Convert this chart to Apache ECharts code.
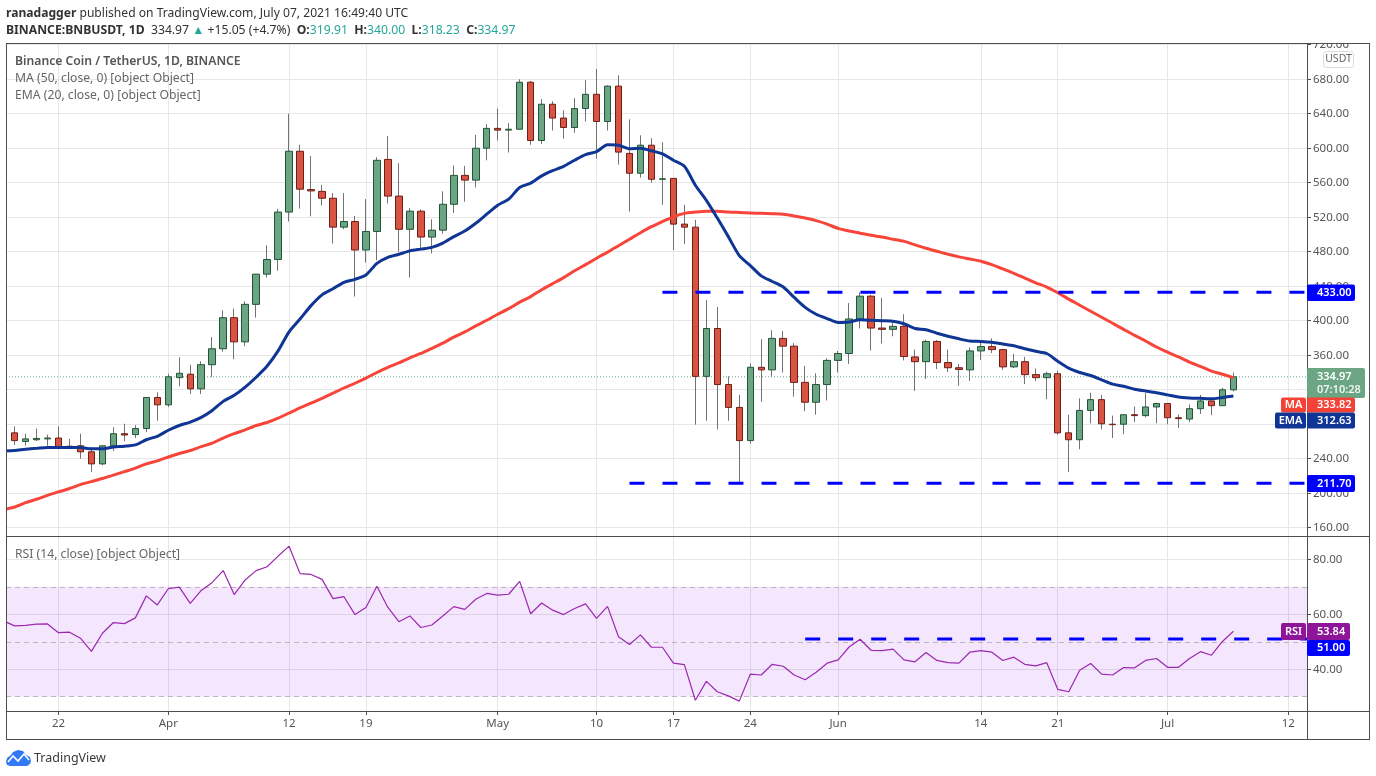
<!DOCTYPE html>
<html>
<head>
<meta charset="utf-8">
<title>BNBUSDT</title>
<script src="https://cdn.jsdelivr.net/npm/echarts@6/dist/echarts.min.js"></script>
<style>html,body{margin:0;padding:0;background:#fff}#c{width:1376px;height:776px}</style>
</head>
<body>
<div id="c"></div>
<script>
// One entry per daily bar, first bar = 2021-03-17, last bar = 2021-07-07. Groups: Mar / Apr / May / Jun / Jul.
const opens = [
258,270,260,262,263,264,254.5,255,248,234,255,269,268,275,311,
302.5,334,338,321,349,367.5,403.5,375.5,419,454,471,526,596.5,552,550,542,508.5,515,482,503.5,587,544.5,506,527,497,505,535,568.5,563,600,
623,621,622,676.5,609,651,635,624,646,662.5,631,672,594,571,603.5,564,565,512,508.5,335.5,391,326,299.5,261,346,343,379.5,370.5,328.5,305.5,326,
354,362,402,428.5,391.5,390,393.5,358,352.5,376,351.5,345.5,343,365,370,366.5,346.5,352.5,337.5,334,338.5,270,262,296,308.5,280,280,291,290,300,
304,287.5,286,298,307,301.5,319.91];
const closes = [
269,261,263,263.5,264,254,254,248,234,255,269,267.5,275,311,302.5,
335,339,321,349,367.5,403.5,375.5,419,454,471,526,596.5,552.5,550.5,542,508.5,515,482,503.5,586,544.5,506,527,497,505,535,568.5,563,600,623,
621,622,676.5,609,651,635,624,646,662.5,631,672,595.5,571,603.5,564,564.5,512,508.5,335.5,391,326,299.5,261,346,343,379.5,370.5,328.5,305.5,326,354,
362,402,428.5,391.5,390,393.5,358.5,352.5,376,351.5,345.5,343.5,365,370,366.5,346.5,352.5,337.5,334,338.5,270,262,296,308.5,280.5,279.5,291,290,300,304,
287.5,286.5,298,307,301.5,319.91,334.97];
const lows = [
255,256,255,260.5,255,252,251,240,224.5,232.5,249,260.5,264,271,284,
300,324,315,315,335,364,355.5,370.5,403.6,450,458,515,530,521,533.5,489.5,506,428,467.5,470,536,480,450,482,478,501,525,538,554.5,586,
609,595,622,604,605,620.5,611,618,631,588,620.5,581,526.5,566,560,534.5,482,489,279.5,284,274,284,211.7,257.5,306,335,340,312,295,291,307.5,
340,350,391,365.5,373.5,382,354,318.5,332.5,344,340.5,324.5,330,354.5,362.5,343,345,326.5,330,309,268,224.5,251,281,274,264,268.5,282.5,288,281,
280,275.5,282.5,292,290.5,301,318.23];
const highs = [
272,277.5,269,275,268,277.5,263,269,253,255,276.5,280.5,279,311,317,
338.5,357.5,349,353,381,412,414,422.6,454,487.5,529.6,640,604,591,557.5,548,548,521.5,541,589.5,614,582.5,530.5,529,517.5,550,580,579.5,615.5,628,
646,629,680,678,657,654.5,644,658,679,692,673,684.5,633.5,615,611.5,607,565,534.5,517,424,416,335.5,314,350.5,378.5,389,388,374,347.5,339,356.5,
365,420.5,433,430,426.5,400.5,407.5,366.5,378,377.5,366.5,350,369,377,379.5,366.5,361.5,358,344.5,341,342,291,310,316.5,314,290,291,300.5,316,305,
304,291,303,314,307,322.5,340];
const ma50 = [
181,184,189,193,197.5,201.5,205.5,210,213.5,217,221,225,229,234,237.5,
242,246,249.5,254,258,264,269,273.5,278.5,282,287,293,299,304.5,310,316,322,327.5,333.5,340,346,351,357,362,368,374,381,387,394,400.5,
407.5,414,421.5,428,436,443,450,458,465,472.5,479.5,487,494.5,502,509,515,520.5,524.5,526,527,527,526,525.5,525,524.5,524,523.5,521.5,519,516,512,
507,504,501.5,499,497,494.5,492,488,484,480.5,477,474,471.5,469,465,460,455,449.5,444,439,432.5,425,418,411,404,397,390,383,376.5,369.5,
363.5,358,352,347,341.5,338,333.82];
const ema20 = [
249,249.6,251,252,253,253,253,253,251.5,251.5,253.5,254.5,256,262,266,
273,278.5,282.5,288,296,306.5,313.5,323,334.5,347.5,365,387,402,417.5,430,437,444.5,448,453,466.5,473.5,477,481,483,485,490,497.5,504,513,523.5,
534,541,554.5,559.5,568,574,579,586,592.5,596,604,603.5,599.5,600,597,593.5,586,579,557,539.5,519,497.5,475.5,464,452,445.5,439,427,415.5,407.5,402.5,
398,398.5,401,400.5,400,399.5,396.5,391,389.5,385.5,382,379,376.5,376,375,373,371,367.5,364.5,362,353,345,340,336.5,331.5,326.5,324,320.5,318.5,316.5,
314,311.5,310.5,310,309.5,311,312.63];
const rsi14 = [
57.6,55.8,56,56.4,56.5,53.3,53.5,51.3,46.5,53.1,57,56.6,58.7,66.7,63.4,
69.3,69.9,64,68.7,71.6,75.9,67.2,72.5,75.9,77.3,81.2,84.8,74.8,74.5,72.7,65.7,66.4,59.9,62.5,70.2,62.5,57.3,59.4,55.2,56.1,59.4,62.8,61.8,65.5,67.6,
67,67.3,72,60.2,64.1,61.5,59.9,62.1,63.8,58.5,62.9,51.8,49,52.5,48,48,42.2,41.7,28.7,35.6,31.8,30.3,28.4,38.2,37.9,41.8,41.1,37.9,36.2,38.9,42.2,
43.4,48.1,50.9,46.9,46.8,47.3,43.4,42.7,46.1,43.2,42.4,42.2,46.2,46.8,46.2,43.2,44.4,41.8,41.2,42.4,32.7,31.8,39.6,42.1,38.2,37.9,40.6,40.5,43.2,43.9,
40.7,40.7,43.9,46.4,45.1,50.1,53.84];

// Time axis: days since 2021-03-22.
const firstDay = -5;
const tickDays = [0,10,21,28,40,49,56,63,71,84,91,101,112];
const tickLabels = ['22','Apr','12','19','May','10','17','24','Jun','14','21','Jul','12'];
const priceTicks = [160,200,240,280,320,360,400,440,480,520,560,600,640,680,720];
const rsiTicks = [40,60,80];
const lastPrice = 334.97;
const resistance = 433, resistanceStart = 55;
const support = 211.7, supportStart = 52;
const rsiLevel = 51, rsiLevelStart = 68;
const rsiBandTop = 70, rsiBandMid = 50, rsiBandBottom = 30;

const FONT = '"Noto Sans", sans-serif';
const xMin = -4.78, xMax = 113.7;
const days = opens.map((_, i) => firstDay + i);
const withDay = arr => arr.map((v, i) => [days[i], v]);
const xLabel = v => { const k = tickDays.indexOf(v); return k >= 0 ? tickLabels[k] : ''; };

const axisColor = '#4f4f4f', gridColor = '#e6e6e6', labelColor = '#555555';
const flat = (y, from) => [[from, y], [xMax, y]];

function tag(x, y, w, h, text, fill) {
  return [{
    type:'rect', z:50, shape:{x, y, width:w, height:h, r:2}, style:{fill}, silent:true
  },{
    type:'text', z:51, silent:true, x:x + w/2, y:y + h/2,
    style:{text, fill:'#fff', font:'600 11px ' + FONT, align:'center', verticalAlign:'middle'}
  }];
}
function valueTag(x, y, w, h, text, fill) {
  return [{
    type:'rect', z:50, shape:{x, y, width:w, height:h, r:2}, style:{fill}, silent:true
  },{
    type:'text', z:51, silent:true, x:x + 10, y:y + h/2,
    style:{text, fill:'#fff', font:'600 11px ' + FONT, verticalAlign:'middle'}
  }];
}
function hLine(x1,y,x2){return {type:'line',z:40,silent:true,shape:{x1,y1:y,x2,y2:y},style:{stroke:axisColor,lineWidth:1}};}
function vLine(x,y1,y2){return {type:'line',z:40,silent:true,shape:{x1:x,y1,x2:x,y2},style:{stroke:axisColor,lineWidth:1}};}
function label(x,y,text,font,fill,rich){
  return {type:'text',z:45,silent:true,x,y,style:{text,font,fill,verticalAlign:'middle',rich:rich||undefined}};
}

const tealC = '#26a69a';
const graphics = [
  {type:'rect',z:39,silent:true,shape:{x:1308,y:28,width:68,height:15},style:{fill:'#fff'}},
  {type:'rect',z:39,silent:true,shape:{x:0,y:43,width:6,height:700},style:{fill:'#fff'}},
  hLine(6,43.5,1370), hLine(6,536.5,1370), hLine(6,711.5,1370), hLine(6,739.5,1370),
  vLine(6.5,43,740), vLine(1307.5,43,740), vLine(1369.5,43,740),
  label(6,14,'{b|ranadagger} published on TradingView.com, July 07, 2021 16:49:40 UTC','12.1px '+FONT,'#333',{b:{font:'bold 12.1px '+FONT,fill:'#333'}}),
  label(6,30.5,'{b|BINANCE:BNBUSDT, 1D}  334.97 {t|▲} +15.05 (+4.7%)  {b|O:}{t|319.91}  {b|H:}{t|340.00}  {b|L:}{t|318.23}  {b|C:}{t|334.97}','12.2px '+FONT,'#333',
    {b:{font:'bold 12.2px '+FONT,fill:'#333'},t:{font:'12.2px '+FONT,fill:tealC}}),
  label(15,62,'Binance Coin / TetherUS, 1D, BINANCE','600 12.2px '+FONT,'#555'),
  label(15,79,'MA (50, close, 0) [object Object]','12.2px '+FONT,'#666'),
  label(15,96,'EMA (20, close, 0) [object Object]','12.2px '+FONT,'#666'),
  label(15,555,'RSI (14, close) [object Object]','12.2px '+FONT,'#666'),
  {type:'rect',z:45,silent:true,shape:{x:1323.5,y:51.5,width:30,height:16,r:3},style:{fill:'#fff',stroke:'#dcdce0',lineWidth:1}},
  {type:'text',z:46,silent:true,x:1338.5,y:59.5,style:{text:'USDT',font:'10.5px '+FONT,fill:'#666',align:'center',verticalAlign:'middle'}},
  // TradingView logo
  {type:'polygon',z:45,silent:true,shape:{points:[[6,762],[7,758],[11,755],[13,752],[18,750],[23,751],[26,755],[30,757],[31,761],[30,764],[27,766],[10,766],[7,765]]},style:{fill:'#3179f5'}},
  {type:'polyline',z:46,silent:true,shape:{points:[[8,762],[13,756],[18,761],[24,754],[29,760]]},style:{stroke:'#fff',lineWidth:1.6,fill:null}},
  label(34,758,'TradingView','12.5px '+FONT,'#3a3a3a'),
  ...valueTag(1307,284.5,48,16.5,'433.00','#0000ff'),
  ...valueTag(1307,475,48,17,'211.70','#0000ff'),
  {type:'rect',z:50,silent:true,shape:{x:1307,y:368,width:58,height:30,r:2},style:{fill:'#6ba583'}},
  {type:'text',z:51,silent:true,x:1317,y:376.5,style:{text:'334.97',fill:'#fff',font:'600 11px '+FONT,verticalAlign:'middle'}},
  {type:'text',z:51,silent:true,x:1317,y:390,style:{text:'07:10:28',fill:'#eef5f0',font:'600 11px '+FONT,verticalAlign:'middle'}},
  ...tag(1281,397.5,25,15,'MA','#f44336'),
  ...valueTag(1307,397.5,48,15,'333.82','#f44336'),
  ...tag(1275,412.5,31,16,'EMA','#0f3595'),
  ...valueTag(1307,412.5,48,16,'312.63','#0f3595'),
  ...tag(1281,623,25,17,'RSI','#8e1599'),
  ...valueTag(1307,623,43,17,'53.84','#8e1599'),
  ...valueTag(1307,640,43,16,'51.00','#0000ff'),
];

const xBase = {type:'value', min:xMin, max:xMax,
  axisLine:{show:false,onZero:false}, splitLine:{show:true,lineStyle:{color:gridColor,width:1}}};
const yBase = {type:'value', position:'right', scale:true,
  axisLine:{show:false,onZero:false}, splitLine:{show:true,lineStyle:{color:gridColor,width:1}}};

const option = {
  animation:false,
  backgroundColor:'#fff',
  tooltip:{show:false},
  grid:[
    {left:6,top:43,width:1301,height:493},
    {left:6,top:536,width:1301,height:175}
  ],
  xAxis:[
    Object.assign({}, xBase, {gridIndex:0, axisTick:{show:false,customValues:tickDays}, axisLabel:{show:false,customValues:tickDays}}),
    Object.assign({}, xBase, {gridIndex:1,
      axisTick:{show:true,length:4,customValues:tickDays,lineStyle:{color:axisColor}},
      axisLabel:{show:true,customValues:tickDays,formatter:xLabel,color:labelColor,fontFamily:'"Noto Sans"',fontSize:11.5,margin:7,hideOverlap:false}})
  ],
  yAxis:[
    Object.assign({}, yBase, {gridIndex:0,min:150.4,max:722,
      axisTick:{show:true,length:4,customValues:priceTicks,lineStyle:{color:axisColor}},
      axisLabel:{show:true,customValues:priceTicks,formatter:v=>v.toFixed(2),color:labelColor,fontFamily:'"Noto Sans"',fontSize:11.5,margin:6,hideOverlap:false}}),
    Object.assign({}, yBase, {gridIndex:1,min:24.8,max:88.5,
      axisTick:{show:true,length:4,customValues:rsiTicks,lineStyle:{color:axisColor}},
      axisLabel:{show:true,customValues:rsiTicks,formatter:v=>v.toFixed(2),color:labelColor,fontFamily:'"Noto Sans"',fontSize:11.5,margin:6,hideOverlap:false}})
  ],
  graphic:{elements:graphics},
  series:[
    {type:'line',name:'last',xAxisIndex:0,yAxisIndex:0,silent:true,showSymbol:false,symbol:'none',z:1,
      data:flat(lastPrice,xMin),lineStyle:{color:'#6ba583',width:1,type:[1,2]}},
    {type:'candlestick',name:'wicks',xAxisIndex:0,yAxisIndex:0,silent:true,barWidth:1,z:3,clip:true,
      data:days.map((d,i)=>[d,opens[i],closes[i],lows[i],highs[i]]),
      itemStyle:{color:'#737375',color0:'#737375',borderColor:'#737375',borderColor0:'#737375',borderWidth:1}},
    {type:'candlestick',name:'bodies',xAxisIndex:0,yAxisIndex:0,silent:true,barWidth:7,z:4,clip:true,
      data:days.map((d,i)=>[d,opens[i],closes[i],Math.min(opens[i],closes[i]),Math.max(opens[i],closes[i])]),
      itemStyle:{color:'#6ba583',color0:'#d75442',borderColor:'#225437',borderColor0:'#6f1d15',borderWidth:1}},
    {type:'line',name:'MA 50',xAxisIndex:0,yAxisIndex:0,silent:true,showSymbol:false,symbol:'none',z:5,smooth:0.25,
      data:withDay(ma50),lineStyle:{color:'#f7453a',width:3}},
    {type:'line',name:'EMA 20',xAxisIndex:0,yAxisIndex:0,silent:true,showSymbol:false,symbol:'none',z:6,smooth:0.25,
      data:withDay(ema20),lineStyle:{color:'#0f3595',width:3}},
    {type:'line',name:'433',xAxisIndex:0,yAxisIndex:0,silent:true,showSymbol:false,symbol:'none',z:7,
      data:flat(resistance,resistanceStart),lineStyle:{color:'#0000ff',width:3,type:[15,18]}},
    {type:'line',name:'211.7',xAxisIndex:0,yAxisIndex:0,silent:true,showSymbol:false,symbol:'none',z:7,
      data:flat(support,supportStart),lineStyle:{color:'#0000ff',width:3,type:[15,18]}},
    {type:'line',name:'RSI',xAxisIndex:1,yAxisIndex:1,silent:true,showSymbol:false,symbol:'none',z:5,
      data:withDay(rsi14),lineStyle:{color:'#9c27b0',width:1.2},
      markArea:{silent:true,itemStyle:{color:'rgba(156,39,240,0.11)'},data:[[{yAxis:rsiBandTop},{yAxis:rsiBandBottom}]]},
      markLine:{silent:true,symbol:'none',label:{show:false},lineStyle:{color:'#c0b4c4',type:[5,4],width:1},
        data:[{yAxis:rsiBandTop},{yAxis:rsiBandMid},{yAxis:rsiBandBottom}]}},
    {type:'line',name:'51',xAxisIndex:1,yAxisIndex:1,silent:true,showSymbol:false,symbol:'none',z:6,
      data:flat(rsiLevel,rsiLevelStart),lineStyle:{color:'#0000ff',width:3,type:[15,18]}}
  ]
};
const chart = echarts.init(document.getElementById('c'),null,{renderer:'canvas',width:1376,height:776});
chart.setOption(option);
</script>
</body>
</html>
